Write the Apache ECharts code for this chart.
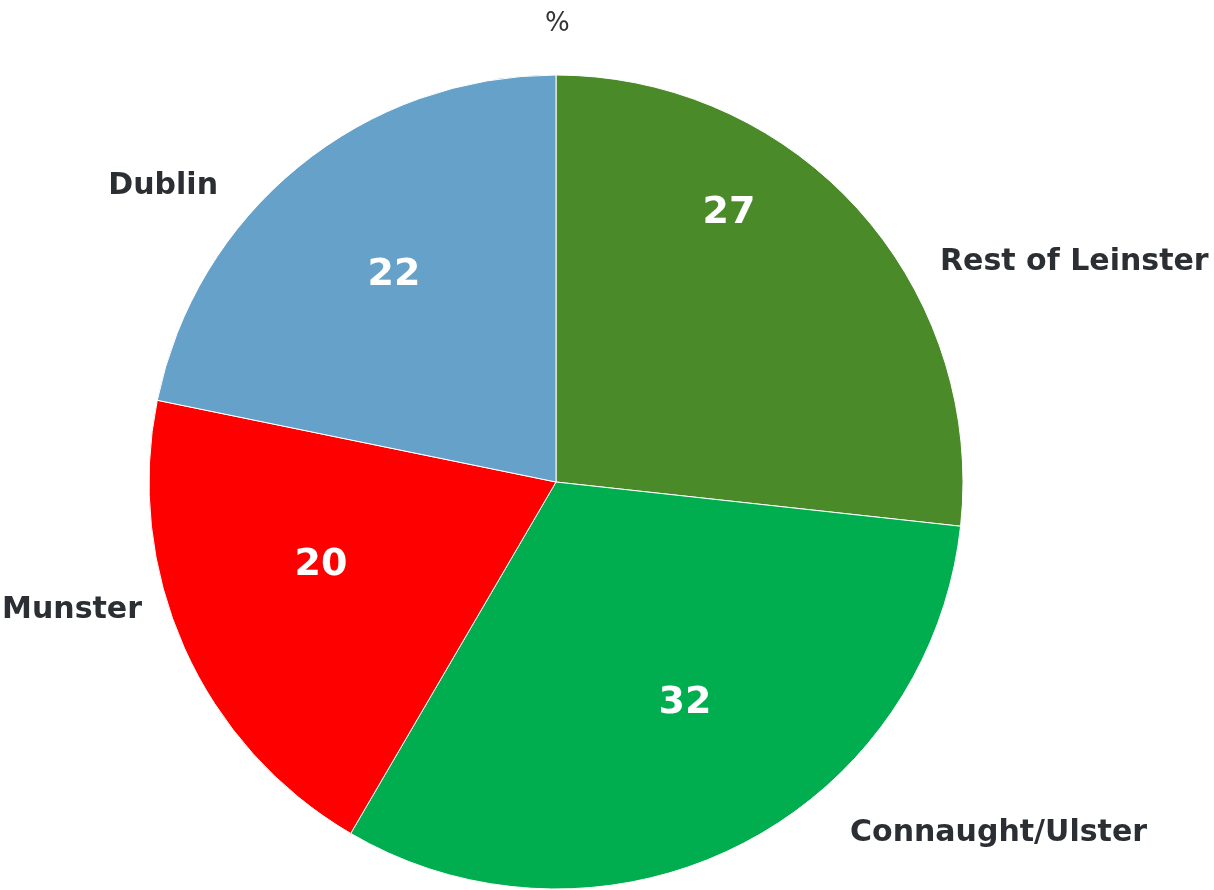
<!DOCTYPE html>
<html>
<head>
<meta charset="utf-8">
<script src="https://cdn.jsdelivr.net/npm/echarts@6/dist/echarts.min.js"></script>
<style>
  html, body { margin: 0; padding: 0; background: #fff; }
  #chart { width: 1214px; height: 890px; }
</style>
</head>
<body>
<div id="chart"></div>
<script>
var regions = ["Rest of Leinster", "Connaught/Ulster", "Munster", "Dublin"];
var shares = [27, 32, 20, 22];
var colors = ["#4b8a29", "#00ae4f", "#ff0000", "#65a1c8"];

var pieData = regions.map(function (name, i) {
  return { name: name, value: shares[i], itemStyle: { color: colors[i] } };
});

// label anchors (layout only)
var outerPos = [
  { x: 940, y: 262, align: "left" },
  { x: 850, y: 833, align: "left" },
  { x: 142, y: 610, align: "right" },
  { x: 218, y: 186, align: "right" },
];
var innerPos = [[729, 213], [685, 703], [321, 565], [394, 275]];

var myChart = echarts.init(document.getElementById("chart"));
var option = {
  animation: false,
  title: {
    text: "%",
    left: 540,
    top: 6,
    textStyle: { fontFamily: "DejaVu Sans", fontWeight: "normal", fontSize: 26, color: "#333" },
  },
  series: [
    {
      type: "pie",
      center: [556, 482],
      radius: 407,
      startAngle: 90,
      data: pieData,
      itemStyle: { borderColor: "#fff", borderWidth: 1 },
      label: {
        show: true,
        position: "inside",
        formatter: "{c}",
        color: "#fff",
        fontFamily: "DejaVu Sans",
        fontWeight: "bold",
        fontSize: 38,
      },
      labelLayout: function (p) {
        var pos = innerPos[p.dataIndex];
        return { x: pos[0], y: pos[1], align: "center", verticalAlign: "middle" };
      },
      emphasis: { disabled: true },
    },
    {
      type: "pie",
      center: [556, 482],
      radius: 407,
      startAngle: 90,
      silent: true,
      data: regions.map(function (name, i) {
        return { name: name, value: shares[i] };
      }),
      itemStyle: { color: "rgba(0,0,0,0)", borderWidth: 0 },
      label: {
        show: true,
        position: "outside",
        formatter: "{b}",
        color: "#2b2e33",
        fontFamily: "DejaVu Sans",
        fontWeight: "bold",
        fontSize: 30,
        overflow: "none",
        width: 400,
      },
      labelLine: { show: false },
      labelLayout: function (p) {
        var pos = outerPos[p.dataIndex];
        return { x: pos.x, y: pos.y, align: pos.align, verticalAlign: "middle" };
      },
    },
  ],
};
myChart.setOption(option);
</script>
</body>
</html>
